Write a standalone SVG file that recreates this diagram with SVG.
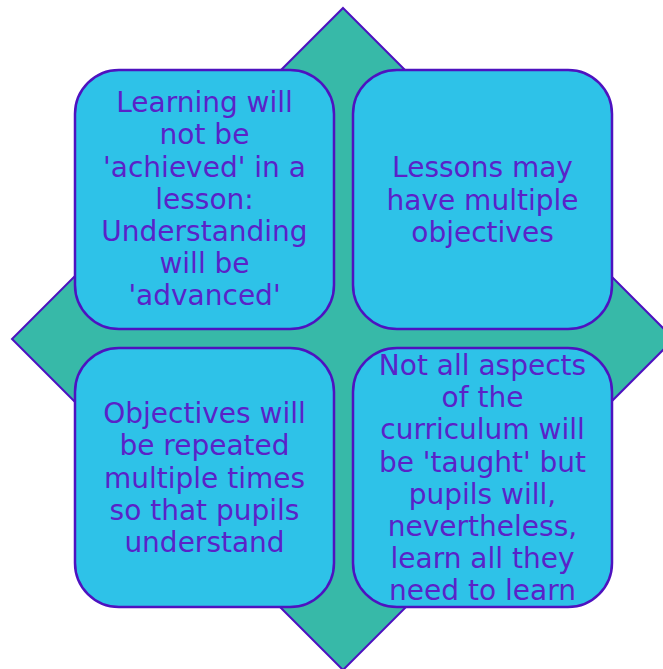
<svg xmlns="http://www.w3.org/2000/svg" width="663" height="669" viewBox="0 0 663 669">
<style>
.box{fill:#2EC2E8;stroke:#4E12C0;stroke-width:2.5}
.t{font-family:"DejaVu Sans",sans-serif;font-size:28px;fill:#5A22C8;text-anchor:middle}
</style>
<rect width="663" height="669" fill="#ffffff"/>
<g id="background">
<polygon points="343,8 674,339 343,670 12,339" fill="#37B9A8" stroke="#4E12C0" stroke-width="2"/>
</g>
<g id="node-tl">
<rect class="box" x="75" y="70" width="259" height="259" rx="44"/>
<text class="t" x="204.5" y="112">Learning will</text>
<text class="t" x="204.5" y="144">not be</text>
<text class="t" x="204.5" y="177">'achieved' in a</text>
<text class="t" x="204.5" y="209">lesson:</text>
<text class="t" x="204.5" y="241">Understanding</text>
<text class="t" x="204.5" y="273">will be</text>
<text class="t" x="204.5" y="305">'advanced'</text>
</g>
<g id="node-tr">
<rect class="box" x="353" y="70" width="259" height="259" rx="44"/>
<text class="t" x="482.5" y="177">Lessons may</text>
<text class="t" x="482.5" y="210">have multiple</text>
<text class="t" x="482.5" y="242">objectives</text>
</g>
<g id="node-bl">
<rect class="box" x="75" y="348" width="259" height="259" rx="44"/>
<text class="t" x="204.5" y="423">Objectives will</text>
<text class="t" x="204.5" y="455">be repeated</text>
<text class="t" x="204.5" y="488">multiple times</text>
<text class="t" x="204.5" y="520">so that pupils</text>
<text class="t" x="204.5" y="552">understand</text>
</g>
<g id="node-br">
<rect class="box" x="353" y="348" width="259" height="259" rx="44"/>
<text class="t" x="482.5" y="375">Not all aspects</text>
<text class="t" x="482.5" y="407">of the</text>
<text class="t" x="482.5" y="439">curriculum will</text>
<text class="t" x="482.5" y="472">be 'taught' but</text>
<text class="t" x="482.5" y="504">pupils will,</text>
<text class="t" x="482.5" y="536">nevertheless,</text>
<text class="t" x="482.5" y="568">learn all they</text>
<text class="t" x="482.5" y="600">need to learn</text>
</g>
<g id="connectors"/>
</svg>
